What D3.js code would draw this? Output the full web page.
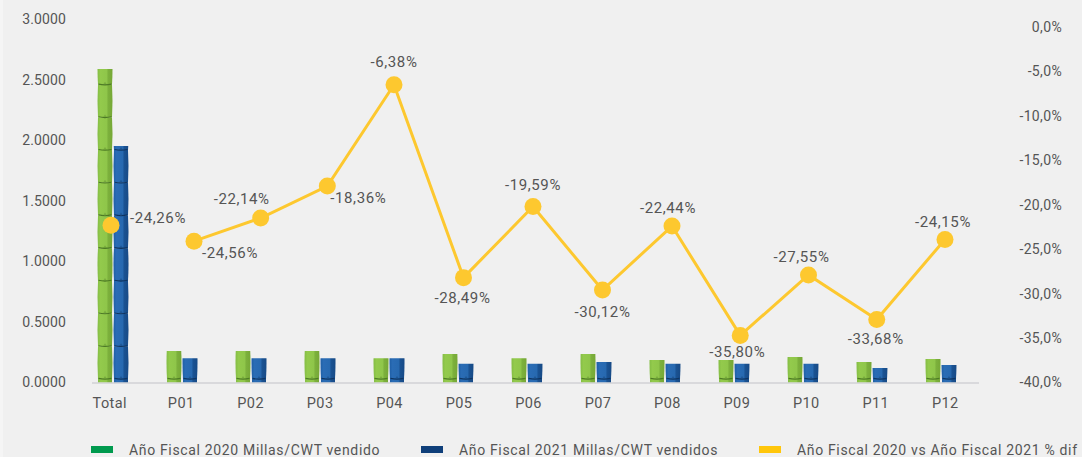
<!DOCTYPE html>
<html>
<head>
<meta charset="utf-8">
<script src="https://cdn.jsdelivr.net/npm/d3@7"></script>
<style>
  html, body { margin: 0; padding: 0; background: #f0f0f0; }
  svg { display: block; }
  text { font-family: Roboto, sans-serif; fill: #555; }
  .left-axis .tick text { font-size: 14px; letter-spacing: 0.1px; }
  .right-axis .tick text { font-size: 14px; letter-spacing: 0.35px; }
  .bottom-axis .tick text { font-size: 14.5px; letter-spacing: 0.4px; }
  .dif-label { font-size: 15px; letter-spacing: 0.6px; text-anchor: middle; }
  .legend-label { font-size: 14px; letter-spacing: 0.66px; }
</style>
</head>
<body>
<svg width="1082" height="457"></svg>
<script>
var categories = ["Total", "P01", "P02", "P03", "P04", "P05", "P06", "P07", "P08", "P09", "P10", "P11", "P12"];
var millas2020 = [2.59, 0.26, 0.26, 0.26, 0.20, 0.235, 0.20, 0.235, 0.185, 0.185, 0.21, 0.17, 0.195];
var millas2021 = [1.955, 0.20, 0.20, 0.20, 0.20, 0.155, 0.155, 0.17, 0.155, 0.155, 0.155, 0.12, 0.145];
// where the dots sit on the right axis (not quite what their labels say)
var difPlot = [-22.3, -24.1, -21.5, -17.9, -6.5, -28.2, -20.2, -29.6, -22.4, -34.7, -27.9, -32.9, -23.9];
var difLabels = ["-24,26%", "-24,56%", "-22,14%", "-18,36%", "-6,38%", "-28,49%", "-19,59%", "-30,12%", "-22,44%", "-35,80%", "-27,55%", "-33,68%", "-24,15%"];
var leftTicks = [0, 0.5, 1, 1.5, 2, 2.5, 3];
var rightTicks = [0, -5, -10, -15, -20, -25, -30, -35, -40];
var legendNames = ["Año Fiscal 2020 Millas/CWT vendido", "Año Fiscal 2021 Millas/CWT vendidos", "Año Fiscal 2020 vs Año Fiscal 2021 % dif"];

var svg = d3.select("svg");
var baseY = 382.5;
var segH = 32.7;
var ringOffset = 3.5;

var y = d3.scaleLinear().domain([0, 3]).range([baseY, 19.5]);
var yDif = d3.scaleLinear().domain([-40, 0]).range([baseY, 27]);
var xBars = d3.scaleBand().domain(categories).range([78.5, 975.5]);
var xTicks = d3.scaleBand().domain(categories).range([77, 980]);
// the line runs on its own, uneven spacing for P01..P12
var xLine = d3.scaleLinear().domain([1, 4, 8, 12]).range([194, 394, 672, 945]);

function lineX(i) {
  return i === 0 ? xBars(categories[0]) + xBars.bandwidth() / 2 - 2 : xLine(i);
}

// thin paler strip down the left edge
svg.append("rect").attr("width", 3).attr("height", 457).attr("fill", "#f5f5f5");

var defs = svg.append("defs");

function addGradient(id, stops) {
  var g = defs.append("linearGradient").attr("id", id);
  stops.forEach(function(s) {
    g.append("stop").attr("offset", s[0]).attr("stop-color", s[1]);
  });
}
addGradient("bambooGreen", [[0, "#84bd45"], [0.2, "#93ca4c"], [0.6, "#8fc64a"], [0.72, "#7cb03c"], [1, "#76a836"]]);
addGradient("bambooBlue", [[0, "#1f5fa6"], [0.2, "#2a6cb5"], [0.6, "#2769b0"], [0.72, "#1a5292"], [1, "#174a86"]]);

// left and right axes
var leftAxis = d3.axisLeft(y).tickValues(leftTicks).tickSize(0).tickPadding(0)
  .tickFormat(d3.format(".4f"));
svg.append("g").attr("class", "left-axis").attr("transform", "translate(66,0)").call(leftAxis)
  .call(function(g) { g.select(".domain").remove(); });

var rightAxis = d3.axisLeft(yDif).tickValues(rightTicks).tickSize(0).tickPadding(0)
  .tickFormat(function(d) { return d3.format(".1f")(d).replace(".", ",").replace("−", "-") + "%"; });
svg.append("g").attr("class", "right-axis").attr("transform", "translate(1062,0)").call(rightAxis)
  .call(function(g) { g.select(".domain").remove(); });

// baseline
svg.append("line")
  .attr("x1", 92).attr("x2", 979)
  .attr("y1", baseY + 0.5).attr("y2", baseY + 0.5)
  .attr("stroke", "#d2d2d6").attr("stroke-width", 1.5);

var bottomAxis = d3.axisBottom(xTicks).tickSize(0).tickPadding(15);
svg.append("g").attr("class", "bottom-axis").attr("transform", "translate(0," + baseY + ")").call(bottomAxis)
  .call(function(g) {
    g.select(".domain").remove();
    g.select(".tick text").attr("dx", -2); // Total sits a bit left of its bars
  });

// bamboo bars
var barW = 15;
function drawBars(values, key, side, fill, ring) {
  var groups = svg.selectAll(".bar-" + key)
    .data(values)
    .enter()
    .append("g")
    .attr("class", "bar-" + key);

  groups.each(function(d, i) {
    var cx = xBars(categories[i]) + xBars.bandwidth() / 2;
    var x0 = side < 0 ? cx - barW - 0.5 : cx + 0.5;
    var top = y(d);
    var id = "clip-" + key + "-" + i;
    defs.append("clipPath").attr("id", id).append("rect")
      .attr("x", x0 - 1).attr("y", top).attr("width", barW + 2).attr("height", baseY - top);

    var g = d3.select(this).attr("clip-path", "url(#" + id + ")");
    var count = Math.ceil((baseY - top) / segH) + 1;
    d3.range(count).forEach(function(k) {
      var bottom = baseY - ringOffset - k * segH;
      var up = bottom - segH;
      g.append("path")
        .attr("d", "M" + (x0 + 0.5) + "," + bottom
          + "Q" + (x0 - 0.5) + "," + (bottom - segH / 2) + " " + (x0 + 0.5) + "," + up
          + "L" + (x0 + barW - 0.5) + "," + up
          + "Q" + (x0 + barW + 0.5) + "," + (bottom - segH / 2) + " " + (x0 + barW - 0.5) + "," + bottom + "Z")
        .attr("fill", "url(#" + fill + ")");
    });
    // foot of the stem under the first ring
    g.append("rect").attr("x", x0 + 0.5).attr("y", baseY - ringOffset)
      .attr("width", barW - 1).attr("height", ringOffset).attr("fill", "url(#" + fill + ")");
    // rings sag a little in the middle, with a small nub on top
    d3.range(count).forEach(function(k) {
      var ry = baseY - ringOffset - k * segH;
      g.append("path")
        .attr("d", "M" + (x0 + 1) + "," + (ry - 0.6) + "Q" + (x0 + barW / 2) + "," + (ry + 1) + " " + (x0 + barW - 1) + "," + (ry - 0.6))
        .attr("fill", "none")
        .attr("stroke", ring)
        .attr("stroke-width", 1.1);
      g.append("path")
        .attr("d", "M" + (x0 + barW / 2 - 2) + "," + ry + "L" + (x0 + barW / 2) + "," + (ry - 3) + "L" + (x0 + barW / 2 + 2) + "," + ry + "Z")
        .attr("fill", ring)
        .attr("opacity", 0.35);
    });
  });
}
drawBars(millas2020, "g2020", -1, "bambooGreen", "#4d7a25");
drawBars(millas2021, "g2021", 1, "bambooBlue", "#0f3561");

// dif line: Total stands alone, only P01..P12 are joined
var line = d3.line()
  .x(function(d) { return lineX(d.i); })
  .y(function(d) { return yDif(d.v); });

var monthly = difPlot.map(function(v, i) { return { v: v, i: i }; }).slice(1);

svg.append("path")
  .datum(monthly)
  .attr("d", line)
  .attr("fill", "none")
  .attr("stroke", "#fdc82f")
  .attr("stroke-width", 3);

svg.selectAll(".dot")
  .data(difPlot)
  .enter()
  .append("circle")
  .attr("class", "dot")
  .attr("cx", function(d, i) { return lineX(i); })
  .attr("cy", function(d) { return yDif(d); })
  .attr("r", 8.5)
  .attr("fill", "#fdc82f");

// label nudges from the dot, in px
var labelDx = [47, 36, -19, 31, 0, -1, 0, 0, -4, -3, -7, -1, -2];
var labelDy = [-7, 12, -19, 12, -23, 20, -22, 22, -18, 16, -18, 19, -18];

svg.selectAll(".dif-label")
  .data(difLabels)
  .enter()
  .append("text")
  .attr("class", "dif-label")
  .attr("x", function(d, i) { return lineX(i) + labelDx[i]; })
  .attr("y", function(d, i) { return yDif(difPlot[i]) + labelDy[i]; })
  .attr("dy", "0.35em")
  .text(function(d) { return d; });

// legend
var legendX = [91, 421, 759];
var legendColors = ["#009a4e", "#0f3f7a", "#ffc60b"];
var legend = svg.selectAll(".legend")
  .data(legendNames)
  .enter()
  .append("g")
  .attr("class", "legend")
  .attr("transform", function(d, i) { return "translate(" + legendX[i] + ",0)"; });

legend.append("rect")
  .attr("y", 446).attr("width", 22).attr("height", 7)
  .attr("fill", function(d, i) { return legendColors[i]; });

legend.append("text")
  .attr("class", "legend-label")
  .attr("x", 38).attr("y", 455)
  .text(function(d) { return d; });
</script>
</body>
</html>
